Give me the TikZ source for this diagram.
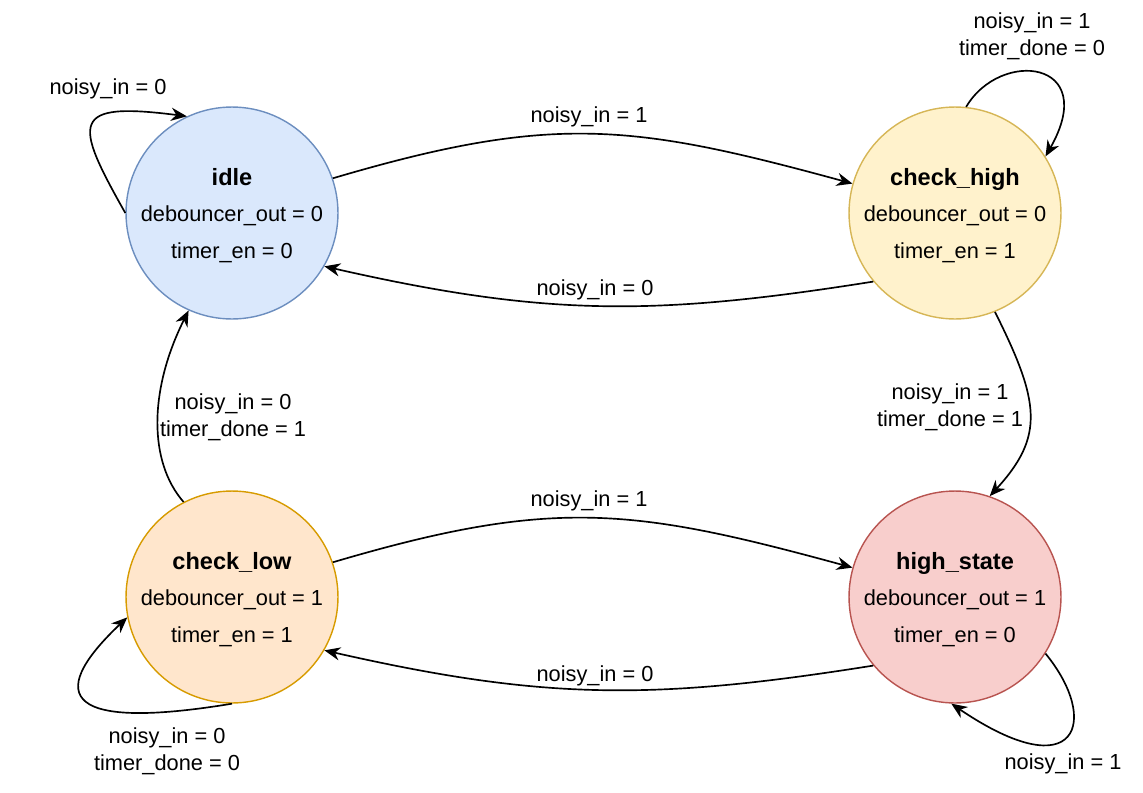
\documentclass[tikz,border=0pt]{standalone}
\usepackage{fontspec}
\setmainfont{Liberation Sans}
\usetikzlibrary{arrows.meta}
\definecolor{idlefill}{HTML}{DAE8FC}
\definecolor{idleline}{HTML}{6C8EBF}
\definecolor{chkhighfill}{HTML}{FFF2CC}
\definecolor{chkhighline}{HTML}{D6B656}
\definecolor{chklowfill}{HTML}{FFE6CC}
\definecolor{chklowline}{HTML}{D79B00}
\definecolor{highfill}{HTML}{F8CECC}
\definecolor{highline}{HTML}{B85450}
\newcommand{\statename}[1]{{\fontsize{13.4}{21}\selectfont\bfseries\rule{0pt}{12.6pt}#1}}
\begin{document}
\begin{tikzpicture}[x=0.02cm,y=-0.02cm,
 state/.style={circle,line width=0.8pt,minimum size=4.24cm,inner sep=0pt,align=center,font=\fontsize{12.4}{21}\selectfont},
 lbl/.style={align=center,inner sep=0pt,font=\fontsize{12.4}{15.4}\selectfont},
 trans/.style={line width=0.95pt,-{Stealth[length=9pt,width=7.5pt]}}]
 \useasboundingbox (0,0) rectangle (1143,792);
 % states
 \node[state,draw=idleline,fill=idlefill] (idle) at (232,213) {\statename{idle}\\debouncer\_out = 0\\timer\_en = 0};
 \node[state,draw=chkhighline,fill=chkhighfill] (chkhigh) at (955,213) {\statename{check\_high}\\debouncer\_out = 0\\timer\_en = 1};
 \node[state,draw=chklowline,fill=chklowfill] (chklow) at (232,597) {\statename{check\_low}\\debouncer\_out = 1\\timer\_en = 1};
 \node[state,draw=highline,fill=highfill] (high) at (955,597) {\statename{high\_state}\\debouncer\_out = 1\\timer\_en = 0};
 % transitions
 \draw[trans] (idle.19) .. controls +(220,-65) and +(-220,-60) .. (chkhigh.164);
 \draw[trans] (chkhigh.220) .. controls +(-220,35) and +(220,50) .. (idle.-30);
 \draw[trans] (chkhigh.-68) .. controls +(45,90) and +(55,-60) .. (high.71);
 \draw[trans] (chklow.117) .. controls +(-35,-40) and +(-40,80) .. (idle.246);
 \draw[trans] (chklow.19) .. controls +(220,-65) and +(-220,-60) .. (high.164);
 \draw[trans] (high.220) .. controls +(-220,35) and +(220,50) .. (chklow.-30);
 % self loops
 \draw[trans] (idle.180) .. controls +(-52,-92) and +(-117,-15) .. (idle.115);
 \draw[trans] (chkhigh.84) .. controls +(34,-58) and +(55,-97) .. (chkhigh.32);
 \draw[trans] (chklow.-90) .. controls +(-182,30) and +(-74,70) .. (chklow.191);
 \draw[trans] (high.-32) .. controls +(55,67) and +(127,86) .. (high.-92);
 % labels
 \node[lbl] (l1) at (108,89) {noisy\_in = 0};
 \node[lbl] (l2) at (589,117) {noisy\_in = 1};
 \node[lbl] (l3) at (595,290) {noisy\_in = 0};
 \node[lbl] (l4) at (1032,36) {noisy\_in = 1\\timer\_done = 0};
 \node[lbl] (l5) at (950,407) {noisy\_in = 1\\timer\_done = 1};
 \node[lbl] (l6) at (233,417) {noisy\_in = 0\\timer\_done = 1};
 \node[lbl] (l7) at (589,501) {noisy\_in = 1};
 \node[lbl] (l8) at (595,676) {noisy\_in = 0};
 \node[lbl] (l9) at (167,751) {noisy\_in = 0\\timer\_done = 0};
 \node[lbl] (l10) at (1063,764) {noisy\_in = 1};
\end{tikzpicture}
\end{document}
